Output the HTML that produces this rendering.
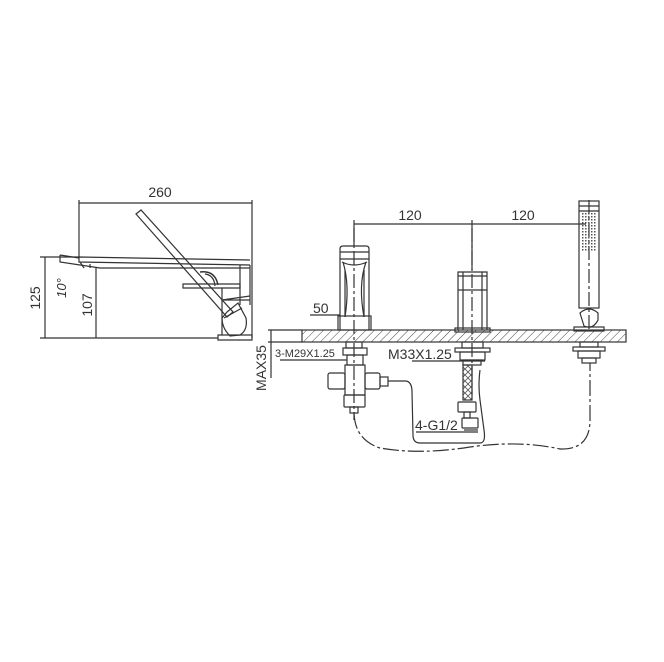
<!DOCTYPE html>
<html><head><meta charset="utf-8"><style>
html,body{margin:0;padding:0;background:#fff}
svg{display:block}
text{font-family:"Liberation Sans",sans-serif;fill:#333}
</style></head><body>
<svg width="664" height="662" viewBox="0 0 664 662" xmlns="http://www.w3.org/2000/svg">
<defs>
<pattern id="h" width="6" height="6" patternUnits="userSpaceOnUse" patternTransform="rotate(45)">
<line x1="0" y1="0" x2="0" y2="6" stroke="#444" stroke-width="1"/>
</pattern>
<pattern id="dots" width="3" height="3" patternUnits="userSpaceOnUse">
<rect width="1.5" height="1.5" fill="#555"/>
</pattern>
<pattern id="braid" width="6" height="6" patternUnits="userSpaceOnUse">
<path d="M0 0L6 6M6 0L0 6" stroke="#555" stroke-width="0.8"/>
</pattern>
</defs>
<g stroke="#333" stroke-width="1.2" fill="none">
<line x1="79" y1="203" x2="252" y2="203"/>
<line x1="79" y1="200" x2="79" y2="257"/>
<line x1="252" y1="200" x2="252" y2="338"/>
<path d="M79 257 L250 260 M79 257 L79 262 L250 265"/>
<path d="M60 255 L60 262 L100 268 L250 268"/>
<path d="M60 255 L79 258"/>
<path d="M80 262 L84 268 M90 264 L90 268"/>
<path d="M240 265 L240 305 M250 265 L250 305"/>
<path d="M200 272 Q215 270 218 285" stroke-width="1.4"/>
<path d="M205 274 Q214 275 215 286"/>
<path d="M183 284 L240 284 L240 288 L183 288 Z"/>
<path d="M222 288 L222 300 L250 300 M222 300 L250 296"/>
<path d="M222 300 L222 335"/>
<path d="M218 335 L252 335 L252 340 L218 340 Z"/>
<path d="M136 214 L141 210 L233 312 L227 317 Z"/>
<path d="M227 312 L238 303 L246 318 Q248 330 240 335 L230 336 Q222 328 222 318 Z"/>
<path d="M224 318 L242 308"/>
<line x1="45" y1="257" x2="45" y2="338"/>
<line x1="40" y1="257" x2="80" y2="257"/>
<line x1="40" y1="338" x2="218" y2="338"/>
<line x1="96" y1="268" x2="96" y2="338"/>
</g>
<text x="160" y="197" font-size="14" text-anchor="middle">260</text>
<text transform="translate(40,298) rotate(-90)" font-size="14" text-anchor="middle">125</text>
<text transform="translate(92,305) rotate(-90)" font-size="14" text-anchor="middle">107</text>
<text transform="translate(66,288) rotate(-90)" font-size="13" font-style="italic" text-anchor="middle">10°</text>

<g stroke="#333" stroke-width="1.2" fill="none">
<rect x="302" y="330" width="324" height="12" fill="url(#h)"/>
<line x1="354" y1="224" x2="586" y2="224"/>
<line x1="354" y1="220" x2="354" y2="245"/>
<line x1="472" y1="220" x2="472" y2="270"/>
<line x1="354" y1="228" x2="354" y2="420" stroke-dasharray="14,3,3,3"/>
<line x1="472" y1="228" x2="472" y2="395" stroke-dasharray="14,3,3,3"/>
<line x1="589" y1="200" x2="589" y2="330" stroke-dasharray="14,3,3,3"/>
<path d="M340 330 L340 249 Q340 246 343 246 L366 246 Q369 246 369 249 L369 330"/>
<path d="M340 252 L369 252 M340 259 L369 259"/>
<path d="M342 262 Q354 268 367 262"/>
<path d="M343 262 Q350 285 345 317 M366 262 Q358 285 364 317"/>
<path d="M345 270 L345 317 M364 270 L364 317"/>
<rect x="338" y="316" width="33" height="14"/>
<line x1="310" y1="315" x2="340" y2="315"/>
<rect x="346" y="342" width="16" height="6"/>
<rect x="343" y="348" width="24" height="7"/>
<rect x="347" y="355" width="16" height="10"/>
<rect x="345" y="365" width="20" height="30"/>
<rect x="328" y="373" width="17" height="16" rx="2"/>
<rect x="365" y="373" width="15" height="16" rx="2"/>
<rect x="380" y="377" width="8" height="9"/>
<rect x="344" y="395" width="21" height="12" rx="1"/>
<rect x="350" y="407" width="8" height="6"/>
<line x1="280" y1="360" x2="347" y2="360"/>
<line x1="271" y1="330" x2="271" y2="378"/>
<line x1="268" y1="330" x2="302" y2="330"/>
<line x1="268" y1="342" x2="302" y2="342"/>
<path d="M458 330 L458 272 L487 272 L487 330"/>
<path d="M458 276 L487 276 M458 290 L487 290 M463 272 L463 330 M482 272 L482 330"/>
<rect x="455" y="328" width="35" height="4"/>
<rect x="462" y="342" width="21" height="6"/>
<rect x="455" y="348" width="35" height="4"/>
<rect x="460" y="352" width="25" height="8"/>
<rect x="463" y="360" width="18" height="5"/>
<line x1="412" y1="361" x2="485" y2="361"/>
<rect x="463" y="365" width="9" height="35" fill="url(#braid)"/>
<rect x="458" y="402" width="18" height="10" rx="1"/>
<rect x="464" y="412" width="6" height="6"/>
<rect x="462" y="418" width="16" height="10" rx="1"/>
<line x1="416" y1="432" x2="478" y2="432"/>
<line x1="464" y1="430" x2="478" y2="430"/>
<rect x="579" y="201" width="20" height="107"/>
<line x1="579" y1="206" x2="599" y2="206"/>
<line x1="579" y1="211" x2="599" y2="211"/>
<rect x="581" y="213" width="16" height="38" fill="url(#dots)" stroke="none"/>
<path d="M580 313 Q589 305 598 313 L598 320 Q593 330 584 326 Z"/>
<rect x="574" y="327" width="30" height="4"/>
<rect x="580" y="342" width="18" height="5"/>
<rect x="573" y="347" width="32" height="4"/>
<rect x="578" y="351" width="22" height="7"/>
<rect x="582" y="358" width="14" height="5"/>
<path d="M388 381 L405 381 Q412 381 412 392 L413 435 Q413 443 420 443 L480 443 Q486 443 484 430 L480 400 Q478 385 480 370"/>
<path d="M354 413 Q355 440 380 448 Q420 455 470 447 Q520 440 560 449 Q590 450 590 420 L590 363" stroke-dasharray="16,3,3,3"/>
</g>
<text x="313" y="313" font-size="14">50</text>
<text x="275" y="357" font-size="11">3-M29X1.25</text>
<text x="388" y="359" font-size="14">M33X1.25</text>
<text x="415" y="430" font-size="14">4-G1/2</text>
<text x="410" y="220" font-size="14" text-anchor="middle">120</text>
<text x="523" y="220" font-size="14" text-anchor="middle">120</text>
<text transform="translate(266,368) rotate(-90)" font-size="14" text-anchor="middle">MAX35</text>
</svg>
</body></html>
